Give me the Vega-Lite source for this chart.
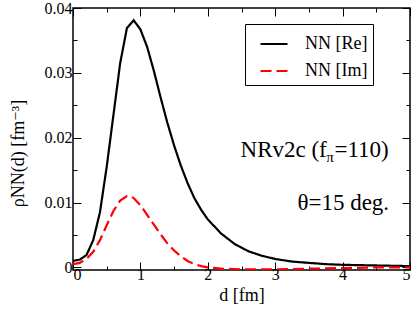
{
  "$schema": "https://vega.github.io/schema/vega-lite/v6.json",
  "width": 337,
  "height": 262,
  "autosize": {"type": "none"},
  "padding": {"left": 73, "top": 8, "right": 5, "bottom": 43},
  "background": "white",
  "config": {
    "view": {"stroke": "black", "strokeWidth": 1.5},
    "font": "Liberation Serif, DejaVu Serif, serif",
    "axis": {
      "labelFont": "Liberation Serif, DejaVu Serif, serif",
      "labelFontSize": 16,
      "labelColor": "black",
      "titleFont": "Liberation Serif, DejaVu Serif, serif",
      "titleFontSize": 18,
      "titleFontWeight": "normal",
      "titleColor": "black",
      "tickColor": "black",
      "tickWidth": 1,
      "domain": false,
      "grid": false
    },
    "legend": {
      "labelFont": "Liberation Serif, DejaVu Serif, serif"
    },
    "text": {"font": "Liberation Serif, DejaVu Serif, serif"}
  },
  "data": {
    "values": [
      {"d": 0, "v": 0.0010, "s": "NN [Re]"},
      {"d": 0.1, "v": 0.0012, "s": "NN [Re]"},
      {"d": 0.2, "v": 0.0019, "s": "NN [Re]"},
      {"d": 0.3, "v": 0.0042, "s": "NN [Re]"},
      {"d": 0.4, "v": 0.0085, "s": "NN [Re]"},
      {"d": 0.5, "v": 0.0155, "s": "NN [Re]"},
      {"d": 0.6, "v": 0.0235, "s": "NN [Re]"},
      {"d": 0.7, "v": 0.0315, "s": "NN [Re]"},
      {"d": 0.8, "v": 0.0369, "s": "NN [Re]"},
      {"d": 0.9, "v": 0.0381, "s": "NN [Re]"},
      {"d": 1.0, "v": 0.0367, "s": "NN [Re]"},
      {"d": 1.1, "v": 0.0340, "s": "NN [Re]"},
      {"d": 1.2, "v": 0.0303, "s": "NN [Re]"},
      {"d": 1.3, "v": 0.0262, "s": "NN [Re]"},
      {"d": 1.4, "v": 0.0223, "s": "NN [Re]"},
      {"d": 1.5, "v": 0.0188, "s": "NN [Re]"},
      {"d": 1.6, "v": 0.0157, "s": "NN [Re]"},
      {"d": 1.7, "v": 0.0130, "s": "NN [Re]"},
      {"d": 1.8, "v": 0.0107, "s": "NN [Re]"},
      {"d": 1.9, "v": 0.0089, "s": "NN [Re]"},
      {"d": 2.0, "v": 0.0074, "s": "NN [Re]"},
      {"d": 2.2, "v": 0.0052, "s": "NN [Re]"},
      {"d": 2.4, "v": 0.0036, "s": "NN [Re]"},
      {"d": 2.6, "v": 0.0025, "s": "NN [Re]"},
      {"d": 2.8, "v": 0.0018, "s": "NN [Re]"},
      {"d": 3.0, "v": 0.0013, "s": "NN [Re]"},
      {"d": 3.25, "v": 0.0009, "s": "NN [Re]"},
      {"d": 3.5, "v": 0.0007, "s": "NN [Re]"},
      {"d": 3.75, "v": 0.0005, "s": "NN [Re]"},
      {"d": 4.0, "v": 0.0004, "s": "NN [Re]"},
      {"d": 4.5, "v": 0.0003, "s": "NN [Re]"},
      {"d": 5.0, "v": 0.0002, "s": "NN [Re]"},
      {"d": 0, "v": 0.0005, "s": "NN [Im]"},
      {"d": 0.1, "v": 0.0007, "s": "NN [Im]"},
      {"d": 0.2, "v": 0.0013, "s": "NN [Im]"},
      {"d": 0.3, "v": 0.0024, "s": "NN [Im]"},
      {"d": 0.4, "v": 0.0042, "s": "NN [Im]"},
      {"d": 0.5, "v": 0.0065, "s": "NN [Im]"},
      {"d": 0.6, "v": 0.0087, "s": "NN [Im]"},
      {"d": 0.7, "v": 0.0103, "s": "NN [Im]"},
      {"d": 0.8, "v": 0.0110, "s": "NN [Im]"},
      {"d": 0.85, "v": 0.0110, "s": "NN [Im]"},
      {"d": 0.9, "v": 0.0107, "s": "NN [Im]"},
      {"d": 1.0, "v": 0.0096, "s": "NN [Im]"},
      {"d": 1.1, "v": 0.0081, "s": "NN [Im]"},
      {"d": 1.2, "v": 0.0066, "s": "NN [Im]"},
      {"d": 1.3, "v": 0.0051, "s": "NN [Im]"},
      {"d": 1.4, "v": 0.0037, "s": "NN [Im]"},
      {"d": 1.5, "v": 0.0026, "s": "NN [Im]"},
      {"d": 1.6, "v": 0.0017, "s": "NN [Im]"},
      {"d": 1.7, "v": 0.0010, "s": "NN [Im]"},
      {"d": 1.8, "v": 0.0005, "s": "NN [Im]"},
      {"d": 1.9, "v": 0.0002, "s": "NN [Im]"},
      {"d": 2.0, "v": 0.0000, "s": "NN [Im]"},
      {"d": 2.2, "v": -0.0002, "s": "NN [Im]"},
      {"d": 2.5, "v": -0.0003, "s": "NN [Im]"},
      {"d": 3.0, "v": -0.0003, "s": "NN [Im]"},
      {"d": 3.5, "v": -0.0002, "s": "NN [Im]"},
      {"d": 4.0, "v": -0.0001, "s": "NN [Im]"},
      {"d": 4.5, "v": 0.0000, "s": "NN [Im]"},
      {"d": 5.0, "v": 0.0000, "s": "NN [Im]"}
    ]
  },
  "layer": [
    {
      "mark": {"type": "line", "strokeWidth": 2.2, "strokeCap": "butt", "clip": true},
      "encoding": {
        "x": {
          "field": "d", "type": "quantitative",
          "scale": {"domain": [0, 5], "nice": false, "zero": false},
          "axis": {
            "orient": "bottom",
            "title": "d [fm]",
            "titlePadding": 4,
            "values": [0, 0.5, 1, 1.5, 2, 2.5, 3, 3.5, 4, 4.5, 5],
            "labelExpr": "datum.value % 1 === 0 ? format(datum.value, 'd') : ''",
            "tickSize": {"condition": {"test": "datum.value % 1 === 0", "value": -8}, "value": -4},
            "labelPadding": 4
          }
        },
        "y": {
          "field": "v", "type": "quantitative",
          "scale": {"domain": [-0.0004, 0.04], "nice": false, "zero": false},
          "axis": {
            "orient": "left",
            "title": "ρNN(d) [fm⁻³]",
            "titleX": -55,
            "titleY": 145,
            "titleBaseline": "middle",
            "values": [0, 0.005, 0.01, 0.015, 0.02, 0.025, 0.03, 0.035, 0.04],
            "labelExpr": "round(datum.value * 1000) % 10 === 0 ? '' + datum.value : ''",
            "tickSize": {"condition": {"test": "round(datum.value * 1000) % 10 === 0", "value": -8}, "value": -4},
            "labelPadding": 9
          }
        },
        "color": {
          "field": "s", "type": "nominal",
          "scale": {"domain": ["NN [Re]", "NN [Im]"], "range": ["black", "red"]},
          "legend": {
            "title": null, "orient": "none", "legendX": 172, "legendY": 16,
            "strokeColor": "black", "fillColor": "white", "padding": 5,
            "symbolType": "stroke", "symbolSize": 729, "symbolStrokeWidth": 2.2,
            "symbolOffset": 9, "labelOffset": 16, "rowPadding": 3,
            "labelFont": "Liberation Serif, DejaVu Serif, serif", "labelFontSize": 18, "labelColor": "black",
            "labelExpr": "datum.label + '\u00a0\u00a0\u00a0\u00a0'"
          }
        },
        "strokeDash": {
          "field": "s", "type": "nominal",
          "scale": {"domain": ["NN [Re]", "NN [Im]"], "range": [[1, 0], [11, 5]]},
          "legend": {
            "title": null, "orient": "none", "legendX": 172, "legendY": 16,
            "strokeColor": "black", "fillColor": "white", "padding": 5,
            "symbolType": "stroke", "symbolSize": 729, "symbolStrokeWidth": 2.2,
            "symbolOffset": 9, "labelOffset": 16, "rowPadding": 3,
            "labelFont": "Liberation Serif, DejaVu Serif, serif", "labelFontSize": 18, "labelColor": "black",
            "labelExpr": "datum.label + '\u00a0\u00a0\u00a0\u00a0'"
          }
        }
      }
    },
    {
      "mark": {"type": "line", "opacity": 0},
      "encoding": {
        "x": {
          "field": "d", "type": "quantitative",
          "axis": {
            "orient": "top", "title": null, "labels": false,
            "values": [0, 0.5, 1, 1.5, 2, 2.5, 3, 3.5, 4, 4.5, 5],
            "tickSize": {"condition": {"test": "datum.value % 1 === 0", "value": -8}, "value": -4}
          }
        },
        "y": {
          "field": "v", "type": "quantitative",
          "axis": {
            "orient": "right", "title": null, "labels": false,
            "values": [0, 0.005, 0.01, 0.015, 0.02, 0.025, 0.03, 0.035, 0.04],
            "tickSize": {"condition": {"test": "round(datum.value * 1000) % 10 === 0", "value": -8}, "value": -4}
          }
        },
        "detail": {"field": "s"}
      }
    },
    {
      "data": {"values": [{"label": "=110)"}]},
      "mark": {"type": "text", "font": "Liberation Serif, DejaVu Serif, serif", "fontSize": 23, "align": "right", "baseline": "alphabetic", "color": "black"},
      "encoding": {
        "x": {"datum": 4.685, "type": "quantitative", "axis": null},
        "y": {"datum": 0.0171, "type": "quantitative", "axis": null},
        "text": {"field": "label"}
      }
    },
    {
      "data": {"values": [{"label": "π"}]},
      "mark": {"type": "text", "font": "Liberation Serif, DejaVu Serif, serif", "fontSize": 15, "align": "right", "baseline": "alphabetic", "dx": -55, "dy": 5, "color": "black"},
      "encoding": {
        "x": {"datum": 4.685, "type": "quantitative", "axis": null},
        "y": {"datum": 0.0171, "type": "quantitative", "axis": null},
        "text": {"field": "label"}
      }
    },
    {
      "data": {"values": [{"label": "NRv2c (f"}]},
      "mark": {"type": "text", "font": "Liberation Serif, DejaVu Serif, serif", "fontSize": 23, "align": "right", "baseline": "alphabetic", "dx": -62, "color": "black"},
      "encoding": {
        "x": {"datum": 4.685, "type": "quantitative", "axis": null},
        "y": {"datum": 0.0171, "type": "quantitative", "axis": null},
        "text": {"field": "label"}
      }
    },
    {
      "data": {"values": [{"label": "θ=15 deg."}]},
      "mark": {"type": "text", "font": "Liberation Serif, DejaVu Serif, serif", "fontSize": 23, "align": "right", "baseline": "alphabetic", "color": "black"},
      "encoding": {
        "x": {"datum": 4.69, "type": "quantitative", "axis": null},
        "y": {"datum": 0.0088, "type": "quantitative", "axis": null},
        "text": {"field": "label"}
      }
    }
  ],
  "resolve": {"axis": {"x": "independent", "y": "independent"}}
}
